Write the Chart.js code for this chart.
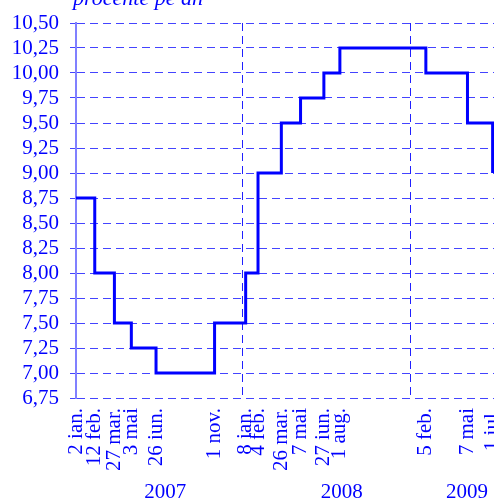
<!DOCTYPE html>
<html>
<head>
<meta charset="utf-8">
<script src="https://cdn.jsdelivr.net/npm/chart.js@4/dist/chart.umd.min.js"></script>
<style>
html,body{margin:0;padding:0;background:#fff;}
#wrap{width:494px;height:499px;}
</style>
</head>
<body>
<div id="wrap"><canvas id="c" width="494" height="499"></canvas></div>
<script>
// Dates at which the rate changed
const changeDates = ['2007-01-02','2007-02-12','2007-03-27','2007-05-03','2007-06-26','2007-11-01',
  '2008-01-08','2008-02-04','2008-03-26','2008-05-07','2008-06-27','2008-08-01',
  '2009-02-05','2009-05-07','2009-07-01'];
// Rate (% per year) from each date
const rates = [8.75, 8.00, 7.50, 7.25, 7.00, 7.50, 8.00, 9.00, 9.50, 9.75, 10.00, 10.25, 10.00, 9.50, 9.00];
// Tick labels for each change date
const tickLabels = ['2 ian.','12 feb.','27 mar.','3 mai','26 iun.','1 nov.','8 ian.','4 feb.','26 mar.','7 mai','27 iun.','1 aug.','5 feb.','7 mai','1 iul.'];
// Year boundaries and year label positions
const yearStarts = ['2008-01-01','2009-01-01'];
const yearLabelDates = ['2007-07-16','2008-08-05','2009-05-06'];
const yearLabels = ['2007','2008','2009'];
const axisStart = '2007-01-02';
const axisEnd = '2009-07-04';
const yMin = 6.75, yMax = 10.5, yStep = 0.25;
const unitTitle = 'procente pe an';

const BLUE = '#0000ff';
const FONT = '"Liberation Serif", "Times New Roman", serif';
const FS = 21;
const dayNum = s => (Date.parse(s + 'T00:00:00Z') - Date.parse(axisStart + 'T00:00:00Z')) / 86400000;
const xs = changeDates.map(dayNum);
const points = xs.map((x, i) => ({x: x, y: rates[i]}));
const xMin = 0, xMax = dayNum(axisEnd);

const noPad = s => { s.paddingLeft = 0; s.paddingRight = 0; s.paddingTop = 0; s.paddingBottom = 0; };

const extras = {
  id: 'extras',
  beforeDatasetsDraw(chart) {
    const {ctx, chartArea, scales} = chart;
    ctx.save();
    ctx.strokeStyle = '#2020ff';
    ctx.lineWidth = 1;
    ctx.setLineDash([8, 5]);
    yearStarts.forEach(d => {
      const px = Math.round(scales.x.getPixelForValue(dayNum(d))) + 0.5;
      ctx.beginPath();
      ctx.moveTo(px, chartArea.top);
      ctx.lineTo(px, chartArea.bottom);
      ctx.stroke();
    });
    ctx.restore();
  },
  afterDraw(chart) {
    const {ctx} = chart;
    ctx.save();
    ctx.fillStyle = BLUE;
    ctx.font = 'italic 22px ' + FONT;
    ctx.textBaseline = 'alphabetic';
    ctx.textAlign = 'left';
    ctx.fillText(unitTitle, 73, 5);
    ctx.restore();
  }
};

new Chart(document.getElementById('c'), {
  type: 'line',
  data: {
    datasets: [{
      data: points,
      stepped: 'before',
      borderColor: BLUE,
      borderWidth: 3,
      pointRadius: 0,
      fill: false
    }]
  },
  options: {
    responsive: false,
    devicePixelRatio: 1,
    animation: false,
    layout: {padding: {top: 23, right: 0, left: 0, bottom: 0}},
    plugins: {legend: {display: false}, tooltip: {enabled: false}, title: {display: false}},
    scales: {
      x: {
        type: 'linear',
        position: 'bottom',
        min: xMin, max: xMax,
        grid: {display: false, drawTicks: false},
        border: {display: false},
        afterBuildTicks: s => { s.ticks = xs.map(v => ({value: v})); },
        afterFit: s => { s.height = 74; noPad(s); },
        ticks: {
          autoSkip: false,
          minRotation: 90, maxRotation: 90,
          padding: 10,
          color: BLUE,
          font: {family: FONT, size: FS},
          callback: (v, i) => tickLabels[i]
        }
      },
      xy: {
        type: 'linear',
        position: 'bottom',
        min: xMin, max: xMax,
        grid: {display: false},
        border: {display: false},
        afterBuildTicks: s => { s.ticks = yearLabelDates.map(d => ({value: dayNum(d)})); },
        afterFit: s => { s.height = 27; noPad(s); },
        ticks: {
          autoSkip: false,
          maxRotation: 0, minRotation: 0,
          padding: 0,
          color: BLUE,
          font: {family: FONT, size: FS},
          callback: (v, i) => yearLabels[i]
        }
      },
      y: {
        type: 'linear',
        min: yMin, max: yMax,
        afterFit: s => { s.width = 76; noPad(s); },
        border: {display: true, color: '#8080ff', width: 2, dash: [8, 5]},
        grid: {color: '#4444ff', lineWidth: 1, tickLength: 6, tickColor: '#4444ff', tickBorderDash: []},
        ticks: {
          autoSkip: false,
          stepSize: yStep,
          padding: 11,
          color: BLUE,
          font: {family: FONT, size: FS},
          callback: v => v.toFixed(2).replace('.', ',')
        }
      }
    }
  },
  plugins: [extras]
});
</script>
</body>
</html>
